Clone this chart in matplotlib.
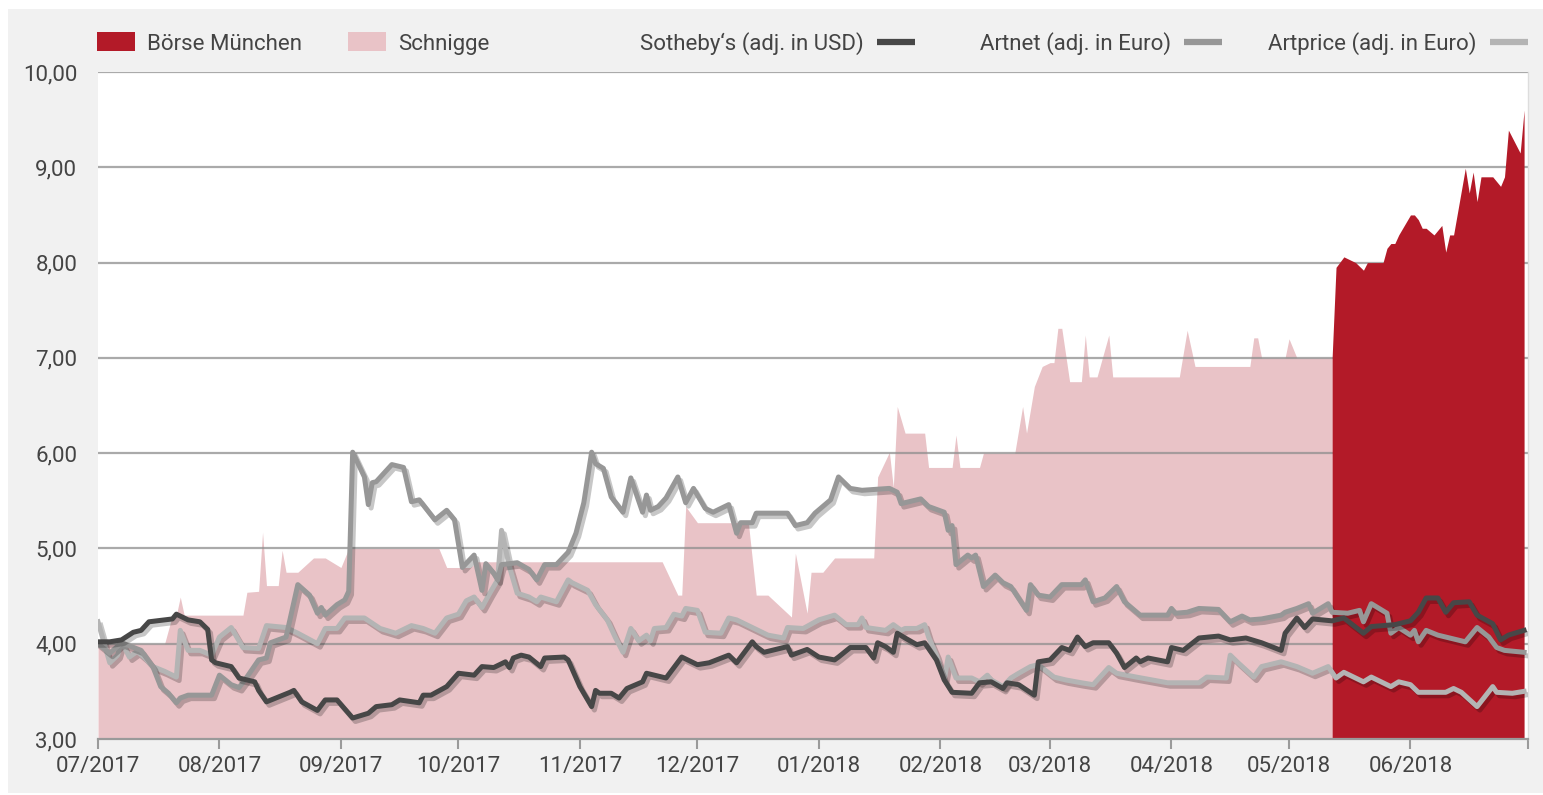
import pandas as pd
import numpy as np
import matplotlib.pyplot as plt
import matplotlib.patheffects as pe
from matplotlib.patches import Rectangle
from matplotlib.lines import Line2D

plt.rcParams['font.family'] = ['Roboto', 'DejaVu Sans']

START = pd.Timestamp("2017-07-01")

# days after 2017-07-01 / index values
sothebys_days = [0, 3, 6, 9, 11, 13, 19, 20, 23, 26, 28, 29, 30, 34, 36, 40, 41, 43, 49, 50,
                 52, 56, 58, 61, 65, 69, 71, 75, 77, 82, 83, 85, 89, 92, 96, 98, 101, 104, 105, 106,
                 108, 110, 113, 114, 119, 120, 123, 126, 127, 128, 131, 133, 135, 139, 140, 145, 149, 153, 156, 161,
                 163, 167, 168, 170, 176, 177, 181, 184, 188, 189, 192, 196, 198, 199, 201, 203, 204, 206, 209, 211,
                 214, 216, 218, 223, 225, 228, 231, 232, 235, 239, 240, 243, 246, 248, 250, 252, 254, 258, 260, 262,
                 265, 266, 268, 273, 274, 277, 281, 286, 289, 293, 297, 302, 303, 306, 308, 310, 315, 318, 323, 325,
                 331, 335, 337, 339, 342, 344, 346, 350, 352, 356, 358, 360, 364]
sothebys_vals = [4.02, 4.02, 4.04, 4.12, 4.14, 4.23, 4.26, 4.31, 4.25, 4.23, 4.15, 3.83, 3.80, 3.76, 3.64, 3.60, 3.51, 3.39, 3.49, 3.51,
                 3.39, 3.30, 3.41, 3.41, 3.22, 3.27, 3.34, 3.36, 3.41, 3.38, 3.46, 3.46, 3.55, 3.69, 3.67, 3.76, 3.75, 3.81, 3.75, 3.85,
                 3.88, 3.86, 3.76, 3.85, 3.86, 3.83, 3.55, 3.34, 3.51, 3.48, 3.48, 3.43, 3.53, 3.60, 3.69, 3.64, 3.86, 3.78, 3.80, 3.88,
                 3.80, 4.02, 3.97, 3.91, 3.97, 3.88, 3.94, 3.86, 3.83, 3.86, 3.96, 3.96, 3.85, 4.01, 3.97, 3.91, 4.11, 4.06, 3.99, 4.01,
                 3.83, 3.62, 3.49, 3.48, 3.59, 3.60, 3.53, 3.59, 3.57, 3.46, 3.81, 3.83, 3.96, 3.93, 4.07, 3.97, 4.01, 4.01, 3.90, 3.75,
                 3.85, 3.81, 3.85, 3.81, 3.96, 3.93, 4.06, 4.08, 4.04, 4.06, 4.01, 3.93, 4.11, 4.27, 4.17, 4.26, 4.24, 4.27, 4.11, 4.18,
                 4.20, 4.24, 4.33, 4.48, 4.48, 4.33, 4.43, 4.44, 4.30, 4.21, 4.04, 4.09, 4.14]

artnet_days = [0, 3, 6, 11, 14, 16, 18, 20, 21, 23, 29, 31, 34, 36, 38, 41, 43, 44, 48, 51,
               54, 56, 57, 58, 61, 63, 64, 65, 68, 69, 70, 71, 75, 78, 80, 82, 86, 89, 91, 93,
               96, 98, 99, 101, 102, 103, 107, 110, 112, 114, 117, 120, 122, 124, 126, 127, 129, 131, 134, 136,
               139, 140, 141, 143, 145, 148, 150, 152, 155, 157, 161, 163, 164, 167, 168, 176, 178, 181, 183, 187,
               189, 192, 195, 202, 204, 205, 210, 212, 216, 217, 218, 219, 222, 223, 224, 226, 229, 231, 233, 237,
               238, 240, 243, 246, 251, 252, 254, 257, 260, 262, 266, 273, 274, 275, 278, 281, 286, 289, 292, 294,
               297, 302, 303, 306, 309, 310, 314, 315, 319, 322, 323, 325, 329, 330, 332, 335, 336, 337, 339, 342,
               345, 349, 352, 355, 357, 359, 364]
artnet_vals = [4.00, 3.90, 4.01, 3.93, 3.76, 3.55, 3.48, 3.38, 3.43, 3.46, 3.46, 3.67, 3.57, 3.54, 3.65, 3.83, 3.85, 4.01, 4.07, 4.62,
               4.51, 4.32, 4.38, 4.30, 4.41, 4.46, 4.55, 6.01, 5.75, 5.46, 5.69, 5.70, 5.88, 5.85, 5.49, 5.51, 5.30, 5.40, 5.30, 4.80,
               4.93, 4.56, 4.84, 4.74, 4.67, 4.83, 4.85, 4.78, 4.67, 4.83, 4.83, 4.96, 5.16, 5.48, 6.01, 5.89, 5.84, 5.54, 5.38, 5.74,
               5.38, 5.56, 5.40, 5.44, 5.53, 5.75, 5.48, 5.63, 5.42, 5.38, 5.46, 5.16, 5.27, 5.27, 5.37, 5.37, 5.24, 5.27, 5.37, 5.51,
               5.75, 5.63, 5.61, 5.63, 5.59, 5.47, 5.52, 5.44, 5.38, 5.19, 5.24, 4.83, 4.93, 4.90, 4.93, 4.60, 4.72, 4.64, 4.60, 4.35,
               4.62, 4.51, 4.49, 4.62, 4.62, 4.67, 4.44, 4.48, 4.60, 4.44, 4.30, 4.30, 4.37, 4.32, 4.33, 4.37, 4.36, 4.23, 4.29, 4.25,
               4.26, 4.30, 4.33, 4.37, 4.42, 4.32, 4.42, 4.33, 4.32, 4.35, 4.23, 4.42, 4.32, 4.11, 4.17, 4.09, 4.14, 4.02, 4.14, 4.09,
               4.06, 4.02, 4.17, 4.07, 3.96, 3.93, 3.91]

artprice_days = [0, 3, 5, 6, 8, 10, 12, 14, 17, 20, 21, 23, 26, 29, 31, 34, 37, 41, 43, 48,
                 51, 56, 58, 61, 63, 68, 72, 76, 80, 83, 86, 89, 92, 94, 96, 98, 100, 102, 103, 105,
                 107, 110, 112, 113, 117, 120, 121, 125, 127, 130, 132, 134, 136, 138, 140, 141, 142, 145, 147, 149,
                 150, 153, 155, 159, 161, 163, 167, 171, 175, 176, 180, 184, 188, 191, 194, 195, 196, 201, 203, 205,
                 206, 209, 211, 212, 214, 216, 217, 219, 223, 225, 227, 228, 231, 233, 235, 238, 240, 244, 247, 251,
                 254, 258, 260, 265, 273, 281, 283, 288, 289, 291, 295, 297, 302, 306, 310, 314, 316, 318, 323, 325,
                 330, 332, 335, 337, 344, 346, 348, 352, 356, 357, 361, 364]
artprice_vals = [4.23, 3.80, 3.88, 4.02, 3.86, 3.92, 3.85, 3.76, 3.71, 3.65, 4.14, 3.93, 3.93, 3.88, 4.07, 4.17, 3.96, 3.95, 4.19, 4.17,
                 4.11, 4.00, 4.16, 4.16, 4.27, 4.27, 4.16, 4.11, 4.19, 4.16, 4.11, 4.27, 4.31, 4.45, 4.49, 4.38, 4.53, 4.67, 5.19, 4.81,
                 4.53, 4.49, 4.44, 4.49, 4.44, 4.67, 4.64, 4.56, 4.41, 4.25, 4.07, 3.91, 4.16, 4.03, 4.09, 4.03, 4.16, 4.17, 4.31, 4.29,
                 4.37, 4.35, 4.12, 4.11, 4.27, 4.25, 4.17, 4.09, 4.06, 4.17, 4.16, 4.25, 4.30, 4.20, 4.20, 4.27, 4.17, 4.14, 4.20, 4.14,
                 4.16, 4.16, 4.20, 4.07, 3.88, 3.62, 3.86, 3.64, 3.64, 3.60, 3.67, 3.62, 3.55, 3.64, 3.69, 3.76, 3.78, 3.65, 3.62, 3.59,
                 3.57, 3.75, 3.69, 3.65, 3.59, 3.59, 3.65, 3.64, 3.88, 3.80, 3.65, 3.76, 3.81, 3.76, 3.69, 3.76, 3.64, 3.70, 3.60, 3.65,
                 3.55, 3.60, 3.57, 3.49, 3.49, 3.53, 3.49, 3.34, 3.55, 3.49, 3.48, 3.50]

schnigge_days = [0, 17, 19, 20, 21, 22, 37, 38, 41, 42, 43, 46, 47, 48, 51, 55, 58, 62, 64, 87,
                 89, 95, 97, 144, 148, 149, 150, 153, 166, 168, 171, 177, 178, 181, 182, 185, 188, 198, 199, 202,
                 203, 204, 206, 211, 212, 218, 219, 220, 225, 226, 234, 236, 237, 239, 241, 243, 244, 245, 246, 248,
                 251, 252, 253, 255, 258, 259, 276, 278, 280, 294, 295, 296, 297, 303, 304, 306, 315]
schnigge_vals = [4.00, 4.00, 4.30, 4.30, 4.49, 4.30, 4.30, 4.54, 4.55, 5.17, 4.61, 4.61, 4.98, 4.75, 4.75, 4.90, 4.90, 4.80, 5.00, 5.00,
                 4.80, 4.80, 4.86, 4.86, 4.51, 4.51, 5.44, 5.27, 5.27, 4.51, 4.51, 4.28, 4.95, 4.32, 4.75, 4.75, 4.90, 4.90, 5.75, 6.01,
                 5.64, 6.49, 6.21, 6.21, 5.85, 5.85, 6.19, 5.85, 5.85, 6.00, 6.00, 6.49, 6.21, 6.70, 6.91, 6.95, 6.95, 7.31, 7.31, 6.75,
                 6.75, 7.24, 6.80, 6.80, 7.24, 6.80, 6.80, 7.29, 6.91, 6.91, 7.21, 7.21, 7.00, 7.00, 7.20, 7.00, 7.00]

boerse_days = [315, 316, 318, 321, 323, 324, 328, 329, 330, 331, 332, 335, 336, 337, 338, 339, 341, 343, 344, 345,
               346, 349, 350, 351, 352, 353, 356, 358, 359, 360, 363, 364]
boerse_vals = [7.00, 7.95, 8.06, 8.00, 7.92, 8.00, 8.00, 8.15, 8.20, 8.20, 8.29, 8.50, 8.50, 8.45, 8.36, 8.36, 8.29, 8.39, 8.11, 8.29,
               8.29, 8.99, 8.73, 8.95, 8.64, 8.90, 8.90, 8.80, 8.90, 9.39, 9.15, 9.60]

month_starts = pd.date_range("2017-07-01", "2018-07-01", freq="MS")
month_labels = ["07/2017", "08/2017", "09/2017", "10/2017", "11/2017", "12/2017", "01/2018",
                "02/2018", "03/2018", "04/2018", "05/2018", "06/2018", ""]
y_ticks = [3, 4, 5, 6, 7, 8, 9, 10]
y_labels = ["3,00", "4,00", "5,00", "6,00", "7,00", "8,00", "9,00", "10,00"]

FS = 16
TXT = "#444444"


def to_dates(days):
    return START + pd.to_timedelta(days, unit="D")


W, H = 1543, 795
fig = plt.figure(figsize=(W / 100, H / 100), dpi=100)
fig.patch.set_facecolor("white")
fig.patches.append(Rectangle((8 / W, 2 / H), 1 - 8 / W, (H - 11) / H, transform=fig.transFigure,
                             facecolor="#f1f1f1", edgecolor="none", zorder=-10))

ax = fig.add_axes([98 / W, 1 - 739 / H, 1430 / W, 667 / H])
ax.set_facecolor("white")

ax.fill_between(to_dates(schnigge_days), 3, schnigge_vals, color="#e9c3c7", lw=0, zorder=1)
for y in y_ticks[1:]:
    ax.axhline(y, color="#8e8e8e", lw=1.6, alpha=0.75, zorder=1.5)
ax.fill_between(to_dates(boerse_days), 3, boerse_vals, color="#b31a28", lw=0, zorder=2)

shadow = [pe.SimpleLineShadow(offset=(2, -2.5), shadow_color="black", alpha=0.22), pe.Normal()]
for d, v, c in [(artprice_days, artprice_vals, "#b4b4b4"),
                (artnet_days, artnet_vals, "#979797"),
                (sothebys_days, sothebys_vals, "#474747")]:
    ax.plot(to_dates(d), v, color=c, lw=3.6, solid_joinstyle="round", zorder=3, path_effects=shadow)

ax.set_xlim(month_starts[0], month_starts[-1])
ax.set_ylim(3, 10)
ax.set_xticks(month_starts)
ax.set_xticklabels(month_labels)
ax.set_yticks(y_ticks)
ax.set_yticklabels(y_labels)
ax.tick_params(axis="x", length=7, width=1.5, color="#9a9a9a", labelsize=FS, labelcolor=TXT, pad=5)
ax.tick_params(axis="y", length=0, labelsize=FS, labelcolor=TXT, pad=15)
for s in ["left", "top"]:
    ax.spines[s].set_visible(False)
ax.spines["bottom"].set_color("#9a9a9a")
ax.spines["bottom"].set_linewidth(1.6)
ax.spines["right"].set_color("#dddddd")
ax.spines["right"].set_linewidth(1)

# legend in the grey header band
ly = 1 - 42 / H
base = 1 - 50 / H
fig.patches.append(Rectangle((97 / W, 1 - 51 / H), 38 / W, 19 / H, transform=fig.transFigure,
                             facecolor="#b31a28", edgecolor="none"))
fig.text(147 / W, base, "Börse München", fontsize=FS, color=TXT, va="baseline")
fig.patches.append(Rectangle((348 / W, 1 - 51 / H), 38 / W, 19 / H, transform=fig.transFigure,
                             facecolor="#e9c3c7", edgecolor="none"))
fig.text(398 / W, base, "Schnigge", fontsize=FS, color=TXT, va="baseline")
for label, x_end, x0, c in [("Sotheby\u2018s (adj. in USD)", 864, 877, "#474747"),
                             ("Artnet (adj. in Euro)", 1171, 1184, "#979797"),
                             ("Artprice (adj. in Euro)", 1477, 1490, "#b4b4b4")]:
    fig.text(x_end / W, base, label, fontsize=FS, color=TXT, va="baseline", ha="right")
    fig.add_artist(Line2D([x0 / W, (x0 + 38) / W], [ly, ly], transform=fig.transFigure,
                          color=c, lw=4.5, solid_capstyle="butt"))

fig.savefig("out.png", dpi=100, facecolor=fig.get_facecolor())
